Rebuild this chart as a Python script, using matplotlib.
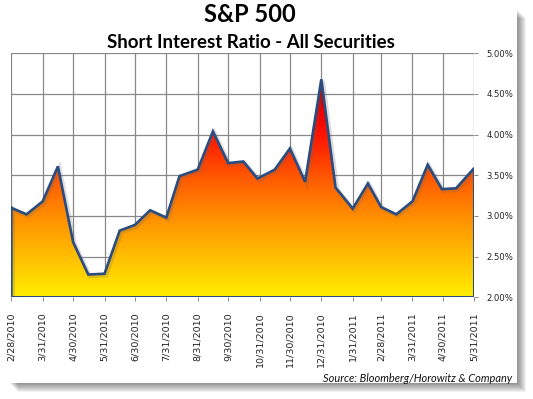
import matplotlib
matplotlib.use('Agg')
import matplotlib.pyplot as plt
import matplotlib.dates as mdates
import matplotlib.patheffects as pe
from matplotlib.patches import Polygon, Rectangle
from matplotlib.colors import LinearSegmentedColormap
import numpy as np
import pandas as pd

# Semi-monthly short interest ratio readings (percent)
dates = ['2010-02-28', '2010-03-15', '2010-03-31', '2010-04-15', '2010-04-30',
         '2010-05-15', '2010-05-31', '2010-06-15', '2010-06-30', '2010-07-15',
         '2010-07-31', '2010-08-13', '2010-08-31', '2010-09-15', '2010-09-30',
         '2010-10-15', '2010-10-29', '2010-11-15', '2010-11-30', '2010-12-15',
         '2010-12-31', '2011-01-14', '2011-01-31', '2011-02-15', '2011-02-28',
         '2011-03-15', '2011-03-31', '2011-04-15', '2011-04-29', '2011-05-13',
         '2011-05-31']
ratio = [3.10, 3.02, 3.18, 3.61, 2.68, 2.28, 2.29, 2.82, 2.89, 3.07,
         2.98, 3.49, 3.57, 4.04, 3.65, 3.67, 3.46, 3.57, 3.83, 3.42,
         4.68, 3.35, 3.09, 3.40, 3.11, 3.02, 3.18, 3.63, 3.33, 3.34,
         3.59]

tick_dates = ['2010-02-28', '2010-03-31', '2010-04-30', '2010-05-31', '2010-06-30',
              '2010-07-31', '2010-08-31', '2010-09-30', '2010-10-31', '2010-11-30',
              '2010-12-31', '2011-01-31', '2011-02-28', '2011-03-31', '2011-04-30',
              '2011-05-31']
tick_labels = ['2/28/2010', '3/31/2010', '4/30/2010', '5/31/2010', '6/30/2010',
               '7/31/2010', '8/31/2010', '9/30/2010', '10/31/2010', '11/30/2010',
               '12/31/2010', '1/31/2011', '2/28/2011', '3/31/2011', '4/30/2011',
               '5/31/2011']

W, H = 533, 399
fig = plt.figure(figsize=(W / 100, H / 100), dpi=100)
fig.patch.set_facecolor('white')


def fig_rect(x0, y0, x1, y1, **kw):
    # pixel box (top-left origin) -> figure fraction rectangle
    return Rectangle((x0 / W, 1 - y1 / H), (x1 - x0) / W, (y1 - y0) / H,
                     transform=fig.transFigure, **kw)


# drop shadow around the chart card
for k in range(9):
    fig.patches.append(fig_rect(10 + k, 10 + k, 518 + k, 384 + k, facecolor='black',
                                edgecolor='none', alpha=0.055, zorder=-10))
fig.patches.append(fig_rect(0, 0, 517, 383, facecolor='white',
                            edgecolor='none', zorder=-5))

ax = fig.add_axes([11.3 / W, 1 - 297.3 / H, (474.3 - 11.3) / W, (297.3 - 53.3) / H])
ax.set_facecolor('none')

x = mdates.date2num(pd.to_datetime(dates))
xt = mdates.date2num(pd.to_datetime(tick_dates))
ymin, ymax = 2.0, 5.0

ax.set_xlim(xt[0], xt[-1])
ax.set_ylim(ymin, ymax)

# gradient fill clipped to the area under the line
cmap = LinearSegmentedColormap.from_list('heat', [
    (0.0, '#FFEE00'), (0.18, '#FFBF00'), (0.37, '#FF8E00'),
    (0.56, '#FF5500'), (0.74, '#FF1500'), (0.85, '#EE0000'), (1.0, '#980000')])
top = max(ratio)
grad = np.linspace(0, 1, 256).reshape(-1, 1)
im = ax.imshow(grad, extent=[x[0], x[-1], ymin, top], origin='lower',
               aspect='auto', cmap=cmap, zorder=2, interpolation='bicubic')
verts = list(zip(x, ratio)) + [(x[-1], ymin), (x[0], ymin)]
poly = Polygon(verts, closed=True, facecolor='none', edgecolor='none')
ax.add_patch(poly)
im.set_clip_path(poly)

# outline with soft shadow
ox = list(x) + [x[-1], x[0], x[0]]
oy = list(ratio) + [ymin, ymin, ratio[0]]
ax.plot(ox, oy, color='#2B4C7E', linewidth=1.9, zorder=3, solid_joinstyle='miter',
        path_effects=[pe.SimpleLineShadow(offset=(1.2, -1.2), shadow_color='#666666',
                                          alpha=0.22, linewidth=3.0),
                      pe.Normal()])

# grid
ax.set_xticks(xt)
ax.set_xticklabels(tick_labels, rotation=90, fontsize=6.8, family='DejaVu Sans',
                   color='#222222')
ax.set_yticks(np.arange(2.0, 5.01, 0.5))
ax.set_yticklabels(['%.2f%%' % v for v in np.arange(2.0, 5.01, 0.5)],
                   fontsize=6.1, family='DejaVu Sans', color='#222222')
ax.yaxis.tick_right()
ax.grid(True, color='#888888', linewidth=0.9, zorder=1)
ax.set_axisbelow(True)
for s in ax.spines.values():
    s.set_visible(False)
ax.tick_params(axis='x', length=3, width=0.7, color='#888888', pad=8)
ax.tick_params(axis='y', length=3, width=0.7, color='#888888', pad=6)

fig.text(250 / W, 1 - 15 / H, 'S&P 500', ha='center', va='center',
         fontsize=17, fontweight='bold', family='Lato', color='black')
fig.text(251 / W, 1 - 42 / H, 'Short Interest Ratio - All Securities', ha='center',
         va='center', fontsize=13.4, fontweight='bold', family='Lato', color='black')
fig.text(512 / W, 1 - 378 / H, 'Source: Bloomberg/Horowitz & Company', ha='right',
         va='center', fontsize=7.9, style='italic', family='Lato', color='#111111')

fig.savefig('out.png', dpi=100)
plt.close(fig)
